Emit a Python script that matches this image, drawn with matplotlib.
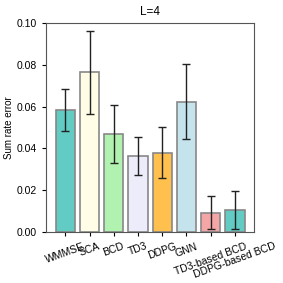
import numpy as np
import matplotlib
matplotlib.use("Agg")
from matplotlib import pyplot as plt

plt.rcParams['font.family'] = ['Liberation Sans', 'DejaVu Sans']

methods = ['WMMSE', 'SCA', 'BCD', 'TD3', 'DDPG', 'GNN', 'TD3-based BCD', 'DDPG-based BCD']
errors = [0.0585, 0.0763, 0.0469, 0.0364, 0.0380, 0.0623, 0.0093, 0.0105]
stds = [0.0100, 0.0200, 0.0140, 0.0091, 0.0121, 0.0180, 0.0080, 0.0090]
colors = ['#62CBC3', '#FFFDE6', '#B2F2B0', '#ECECFA', '#FFC04E', '#C4E3EC', '#F4A6A6', '#62CBC3']

fig = plt.figure(figsize=(2.83, 2.83), dpi=100)
ax = fig.add_axes([0.163, 0.180, 0.735, 0.739])

x = np.arange(len(methods))
ax.bar(x, errors, width=0.8, color=colors, edgecolor='#888888', linewidth=1.2,
       yerr=stds, capsize=3, error_kw=dict(ecolor='#222222', elinewidth=1.0, capthick=1.0))

ax.set_xticks(x)
ax.set_xticklabels(methods, rotation=20, fontsize=7.5)
ax.set_ylim(0, 0.1)
ax.set_yticks([0, 0.02, 0.04, 0.06, 0.08, 0.10])
ax.set_yticklabels(['0.00', '0.02', '0.04', '0.06', '0.08', '0.10'])
ax.tick_params(axis='y', labelsize=7.5, length=3, width=0.8)
ax.tick_params(axis='x', length=3, width=0.8)
ax.set_ylabel('Sum rate error', fontsize=7, labelpad=2)
ax.set_title('L=4', fontsize=8.5)
for s in ax.spines.values():
    s.set_color('#555555')
    s.set_linewidth(0.8)

fig.savefig('out.png', dpi=100)
